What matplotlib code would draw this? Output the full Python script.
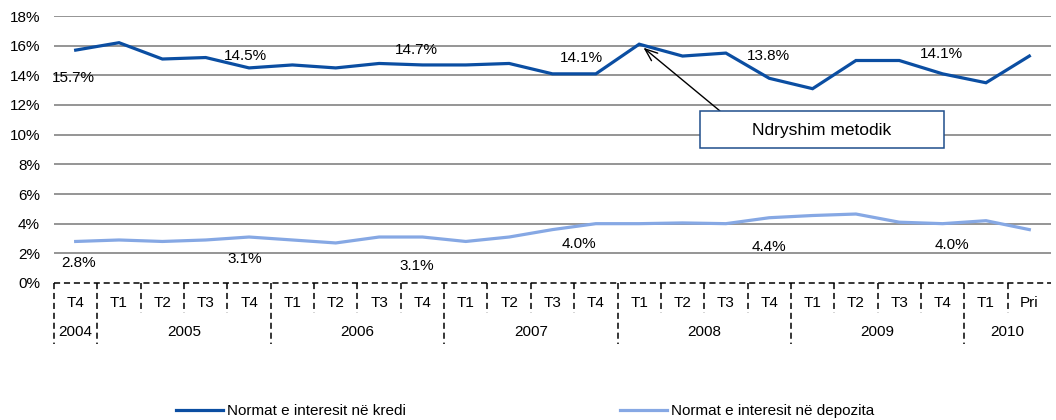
import matplotlib
matplotlib.use("Agg")
import matplotlib.pyplot as plt
from matplotlib.transforms import blended_transform_factory
from matplotlib.patches import Rectangle
from matplotlib.lines import Line2D

plt.rcParams['font.family'] = ['Liberation Sans', 'DejaVu Sans']

quarters = ["T4", "T1", "T2", "T3", "T4", "T1", "T2", "T3", "T4", "T1", "T2", "T3",
            "T4", "T1", "T2", "T3", "T4", "T1", "T2", "T3", "T4", "T1", "Pri"]
years = ["2004", "2005", "2006", "2007", "2008", "2009", "2010"]
year_lengths = [1, 4, 4, 4, 4, 4, 2]

credit = [15.7, 16.2, 15.1, 15.2, 14.5, 14.7, 14.5, 14.8, 14.7, 14.7, 14.8, 14.1,
          14.1, 16.1, 15.3, 15.5, 13.8, 13.1, 15.0, 15.0, 14.1, 13.5, 15.3]
deposit = [2.8, 2.9, 2.8, 2.9, 3.1, 2.9, 2.7, 3.1, 3.1, 2.8, 3.1, 3.6,
           4.0, 4.0, 4.05, 4.0, 4.4, 4.55, 4.65, 4.1, 4.0, 4.2, 3.6]
yticks = [0, 2, 4, 6, 8, 10, 12, 14, 16, 18]

credit_name = "Normat e interesit në kredi"
deposit_name = "Normat e interesit në depozita"
note_text = "Ndryshim metodik"

# labelled points: (index, dx px, dy px)
credit_labels = [(0, -2, -28), (4, -4, 12), (8, -6, 15), (12, -14, 16), (16, -1, 22), (20, -1, 20)]
deposit_labels = [(0, 3, -22), (4, -4, -22), (8, -6, -29), (12, -17, -20), (16, 0, -29), (20, 9, -21)]

FS = 11
W, H = 1056, 420
fig = plt.figure(figsize=(W / 100, H / 100), dpi=100)
L, R, T, B = 54, 1051, 16, 283
ax = fig.add_axes([L / W, 1 - B / H, (R - L) / W, (B - T) / H])

c_credit = "#0B4EA2"
c_dep = "#86A8E4"
x = list(range(len(quarters)))
ax.plot(x, credit, color=c_credit, lw=2.3, solid_joinstyle='miter', zorder=3)
ax.plot(x, deposit, color=c_dep, lw=2.3, solid_joinstyle='miter', zorder=3)

ax.set_xlim(-0.5, len(quarters) - 0.5)
ax.set_ylim(0, 18)
ax.set_yticks(yticks)
ax.set_yticklabels([f"{v}%" for v in yticks], fontsize=FS)
ax.tick_params(axis='y', length=0, pad=10)
ax.set_xticks([])
for s in ax.spines.values():
    s.set_visible(False)
for v in yticks[1:]:
    ax.axhline(v, color="#8C8C8C", lw=1.3, zorder=1)

for i, dx, dy in credit_labels:
    ax.annotate(f"{credit[i]:.1f}%", (i, credit[i]), xytext=(dx, dy), textcoords='offset pixels',
                ha='center', va='center', fontsize=FS)
for i, dx, dy in deposit_labels:
    ax.annotate(f"{deposit[i]:.1f}%", (i, deposit[i]), xytext=(dx, dy), textcoords='offset pixels',
                ha='center', va='center', fontsize=FS)

# category table below axis
tr = blended_transform_factory(ax.transData, fig.transFigure)
def fy(p):
    return 1 - p / H
dash = dict(color='black', lw=1.1, linestyle=(0, (4, 2.5)), clip_on=False, transform=tr)
n = len(quarters)
ax.add_line(Line2D([-0.5, n - 0.5], [fy(B), fy(B)], **dash))
year_bounds = [-0.5]
acc = -0.5
for ln in year_lengths:
    acc += ln
    year_bounds.append(acc)
for k in range(n):
    b = k - 0.5
    if b in year_bounds:
        ax.add_line(Line2D([b, b], [fy(B), fy(344)], **dash))
    else:
        ax.add_line(Line2D([b, b], [fy(B), fy(313)], **dash))
for i, q in enumerate(quarters):
    ax.text(i, fy(303), q, transform=tr, ha='center', va='center', fontsize=FS)
for k, yname in enumerate(years):
    c = (year_bounds[k] + year_bounds[k + 1]) / 2
    ax.text(c, fy(332), yname, transform=tr, ha='center', va='center', fontsize=FS)

# annotation box and arrow
fig.patches.append(Rectangle((700 / W, fy(148)), 244 / W, 37 / H, transform=fig.transFigure,
                             facecolor='white', edgecolor='#1F4E8C', lw=1.1, zorder=5))
fig.text(822 / W, fy(130), note_text, ha='center', va='center', fontsize=12.5, zorder=6)
ax.annotate('', xy=(13, credit[13]), xytext=(720 / W, fy(111)), textcoords='figure fraction',
            arrowprops=dict(arrowstyle='->,head_length=0.9,head_width=0.35', color='black', lw=1,
                            shrinkA=0, shrinkB=4), zorder=6)

handles = [Line2D([], [], color=c_credit, lw=2.3), Line2D([], [], color=c_dep, lw=2.3)]
fig.legend(handles, [credit_name, deposit_name], loc='center left',
           bbox_to_anchor=(176 / W, fy(411)), ncol=2, frameon=False, borderpad=0,
           borderaxespad=0, handlelength=3.1, handletextpad=0.25, columnspacing=14,
           prop={'size': FS})

fig.savefig("out.png", dpi=100)
